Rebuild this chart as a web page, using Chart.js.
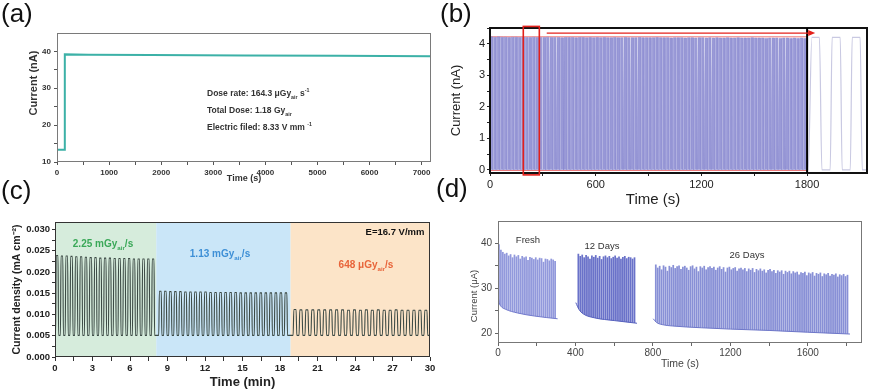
<!DOCTYPE html>
<html>
<head>
<meta charset="utf-8">
<script src="https://cdn.jsdelivr.net/npm/chart.js@4.4.1/dist/chart.umd.min.js"></script>
<style>
  body { margin:0; background:#fff; font-family:'Liberation Sans', Arial, sans-serif; }
  #fig { position:relative; width:875px; height:390px; overflow:hidden; }
  .box { position:absolute; }
  .t { position:absolute; white-space:nowrap; line-height:1; }
  .c { transform:translate(-50%,-50%); }
  .l { transform:translate(0,-50%); }
  .r { transform:translate(-50%,-50%) rotate(-90deg); }
  .lbl { position:absolute; font-size:26px; line-height:1; color:#111; }
  sub, sup { font-size:62%; line-height:0; }
</style>
</head>
<body>
<div id="fig">
  <div class="box" style="left:0;top:0;width:440px;height:190px"><canvas id="chartA"></canvas></div>
  <div class="box" style="left:440px;top:0;width:435px;height:195px"><canvas id="chartB"></canvas></div>
  <div class="box" style="left:0;top:200px;width:440px;height:190px"><canvas id="chartC"></canvas></div>
  <div class="box" style="left:440px;top:208px;width:435px;height:182px"><canvas id="chartD"></canvas></div>

  <div class="lbl" style="left:1px;top:0">(a)</div>
  <div class="lbl" style="left:440px;top:0">(b)</div>
  <div class="lbl" style="left:1px;top:177px">(c)</div>
  <div class="lbl" style="left:436px;top:175px">(d)</div>

  <!-- (a) -->
  <div class="t r" style="left:33px;top:83px;font:bold 11px 'Liberation Sans',Arial;color:#333">Current (nA)</div>
  <div class="t l" style="left:207px;top:93px;font:bold 8.5px 'Liberation Sans',Arial;color:#333">Dose rate: 164.3 μGy<sub>air</sub> s<sup>-1</sup></div>
  <div class="t l" style="left:207px;top:110px;font:bold 8.5px 'Liberation Sans',Arial;color:#333">Total Dose: 1.18 Gy<sub>air</sub></div>
  <div class="t l" style="left:207px;top:127px;font:bold 8.5px 'Liberation Sans',Arial;color:#333">Electric filed: 8.33 V mm <sup>-1</sup></div>

  <!-- (b) -->
  <div class="t c" style="left:653px;top:198px;font:15px 'Liberation Sans',Arial;color:#222">Time (s)</div>

  <!-- (c) -->
  <div class="t c" style="left:103px;top:243px;font:bold 10px 'Liberation Sans',Arial;color:#3aa858">2.25 mGy<sub>air</sub>/s</div>
  <div class="t c" style="left:220px;top:253px;font:bold 10px 'Liberation Sans',Arial;color:#3d8fd6">1.13 mGy<sub>air</sub>/s</div>
  <div class="t c" style="left:366px;top:264px;font:bold 10px 'Liberation Sans',Arial;color:#e8643a">648 μGy<sub>air</sub>/s</div>
  <div class="t c" style="left:395px;top:231px;font:bold 9.5px 'Liberation Sans',Arial;color:#111">E=16.7 V/mm</div>

  <!-- (d) -->
  <div class="t r" style="left:473px;top:296px;font:9.5px 'Liberation Sans',Arial;color:#444">Current (μA)</div>
  <div class="t c" style="left:528px;top:239px;font:9.5px 'Liberation Sans',Arial;color:#333">Fresh</div>
  <div class="t c" style="left:602px;top:245px;font:9.5px 'Liberation Sans',Arial;color:#333">12 Days</div>
  <div class="t c" style="left:747px;top:254px;font:9.5px 'Liberation Sans',Arial;color:#333">26 Days</div>
</div>

<script>
const FONT = "'Liberation Sans', Arial, sans-serif";

// (a) current under continuous irradiation
const aTime    = [0, 150, 150, 600, 1800, 3600, 5400, 7180];
const aCurrent = [13.3, 13.3, 39.2, 39.1, 39.0, 38.9, 38.8, 38.7];
const aXTicks = [0, 500, 1000, 1500, 2000, 2500, 3000, 3500, 4000, 4500, 5000, 5500, 6000, 6500, 7000];
const aYTicks = [10, 15, 20, 25, 30, 35, 40];

// (b) on/off switching, one peak per cycle
const bPeriod = 20;
const bPeaks = [
  4.22,4.21,4.22,4.21,4.21,4.2,4.21,4.21,4.2,4.21,4.2,4.2,4.21,4.2,4.2,
  4.2,4.21,4.2,4.2,4.2,4.19,4.2,4.2,4.2,4.19,4.2,4.2,4.19,4.2,4.19,
  4.2,4.19,4.2,4.19,4.19,4.2,4.19,4.19,4.2,4.19,4.19,4.19,4.2,4.19,4.19,
  4.19,4.19,4.2,4.19,4.19,4.19,4.18,4.19,4.19,4.19,4.18,4.19,4.19,4.18,4.19,
  4.19,4.18,4.19,4.18,4.19,4.18,4.18,4.19,4.18,4.18,4.19,4.18,4.18,4.18,4.19,
  4.18,4.18,4.18,4.17,4.18,4.18,4.18,4.17,4.18,4.18,4.17,4.18,4.17,4.18,4.17
];
// zoomed view drawn right of 1800 s
const bInsetTime    = [1803, 1806, 1827, 1870, 1884, 1931, 1942, 1988, 1999, 2045, 2056, 2101, 2113, 2140];
const bInsetCurrent = [0, 0, 4.2, 4.2, 0, 0, 4.2, 4.2, 0, 0, 4.2, 4.2, 0, 0];
const bSplitTime = 1800;
const bBoxTime = [189, 280];
const bBoxCurrent = [-0.16, 4.55];
const bArrowTime = [322, 1846];
const bArrowCurrent = 4.34;
const bGuideTop = 4.22, bGuideBottom = -0.02;
const bXTicks = [0, 300, 600, 900, 1200, 1500, 1800];
const bYTicks = [0, 0.5, 1, 1.5, 2, 2.5, 3, 3.5, 4, 4.5];

// (c) three dose rates
const cRegionEdges = [0, 8.1, 18.85, 30];
const cRegionColors = ['#d6ecdc', '#cae6f8', '#fce4c8'];
const cBase = 0.0051;
const cStart = [0.05, 8.3, 19.05];
const cPeriod = [0.384, 0.402, 0.476];
const cPeaksHigh = [0.0239,0.0238,0.0238,0.0237,0.0236,0.0236,0.0235,0.0234,0.0234,0.0233,0.0233,
  0.0233,0.0232,0.0232,0.0232,0.0232,0.0231,0.0231,0.0231,0.0231,0.0231];
const cPeaksMid = [0.0155,0.0155,0.0154,0.0154,0.0154,0.0153,0.0153,0.0153,0.0153,0.0153,0.0152,0.0152,0.0152,
  0.0152,0.0152,0.0152,0.0151,0.0151,0.0151,0.0151,0.0151,0.0151,0.0151,0.0151,0.0151,0.0151];
const cPeaksLow = [0.0112,0.0111,0.0111,0.0111,0.0111,0.0111,0.0111,0.0111,0.0111,0.0110,0.0111,0.0110,
  0.0111,0.0110,0.0111,0.0110,0.0110,0.0111,0.0110,0.0110,0.0110,0.0110,0.0110];
const cXTicks = [0, 1.5, 3, 4.5, 6, 7.5, 9, 10.5, 12, 13.5, 15, 16.5, 18, 19.5, 21, 22.5, 24, 25.5, 27, 28.5, 30];
const cYTicks = [0, 0.0025, 0.005, 0.0075, 0.01, 0.0125, 0.015, 0.0175, 0.02, 0.0225, 0.025, 0.0275, 0.03];

// (d) stability: spike tops every 10 s, smooth dark-current baseline
const dFloor = 17.8;
const dStep = 10;
const dFreshStart = 5, dDay12Start = 415, dDay26Start = 815;
const dFreshTop = [39.8,38.6,38.1,37.7,37.9,37.3,37.6,36.9,37.5,37.1,37.4,36.6,37.2,36.9,37.1,
  36.3,37.0,36.8,36.5,36.9,36.4,36.8,36.7,35.9,36.6,36.5,36.2,36.6,36.4,36.1];
const dDay12Top = [37.7,37.2,37.5,36.9,37.4,37.1,36.6,37.3,37.0,37.4,36.8,37.2,36.5,37.1,37.3,
  36.9,37.2,36.7,37.0,37.3,36.8,37.1,36.6,37.0,37.2,36.7,37.0,36.9,36.6,36.9];
const dDay26Top = [
  35.3,34.6,35.0,34.2,35.1,34.8,33.9,35.0,34.7,35.2,34.5,34.9,35.1,34.3,34.8,
  35.0,34.6,34.1,34.9,35.1,34.4,34.8,33.8,34.9,34.6,35.0,34.2,34.7,34.9,34.5,
  34.8,34.1,34.6,34.9,34.3,34.7,33.7,34.6,34.8,34.2,34.5,34.7,33.9,34.4,34.6,
  34.2,34.5,33.8,34.4,34.1,34.5,33.6,34.3,34.0,34.4,33.9,34.2,33.5,34.1,34.3,
  33.8,34.1,33.4,34.0,33.7,34.0,33.2,33.9,33.6,33.9,33.3,33.8,33.5,33.7,33.1,
  33.6,33.4,33.7,32.9,33.5,33.3,33.6,32.8,33.4,33.2,33.5,32.7,33.3,33.1,33.4,
  32.8,33.2,33.0,33.3,32.6,33.1,32.9,33.2,32.7,33.0
];
const dFreshBaseT = [0, 6, 15, 40, 100, 190, 308];
const dFreshBase  = [28.5, 26.8, 26.0, 25.3, 24.5, 23.8, 23.2];
const dDay12BaseT = [402, 418, 440, 500, 600, 718];
const dDay12Base  = [26.8, 25.3, 24.3, 23.4, 22.8, 22.2];
const dDay26BaseT = [802, 818, 848, 900, 1050, 1200, 1400, 1600, 1818];
const dDay26Base  = [23.2, 22.4, 21.9, 21.6, 21.2, 20.9, 20.6, 20.2, 19.8];
const dXTicks = [0, 200, 400, 600, 800, 1000, 1200, 1400, 1600, 1800];
const dYTicks = [20, 25, 30, 35, 40];

// ---------- helpers
const xy = (xs, ys) => xs.map((x, i) => ({x, y: ys[i]}));

function pulseTrain(start, period, peaks, low, riseFrac, onFrac) {
  const pts = [];
  peaks.forEach((p, i) => {
    const t0 = start + i * period;
    pts.push({x: t0, y: low}, {x: t0 + riseFrac * period, y: p},
             {x: t0 + onFrac * period, y: p}, {x: t0 + (onFrac + riseFrac) * period, y: low});
  });
  return pts;
}

const framePlugin = {
  id: 'frame',
  afterDatasetsDraw(chart, args, opts) {
    const {ctx, chartArea: a} = chart;
    const w = opts.width || 1;
    const off = (w % 2) ? 0.5 : 0;
    ctx.save();
    ctx.strokeStyle = opts.color || '#777';
    ctx.lineWidth = w;
    const l = Math.round(a.left) + off, t = Math.round(a.top) + off;
    const r = Math.round(a.right) - off, b = Math.round(a.bottom) - off;
    ctx.strokeRect(l, t, r - l, b - t);
    ctx.restore();
  }
};
Chart.register(framePlugin);

// linear axis with fixed tick positions and a fixed box size
function axis(o) {
  return {
    type: 'linear', min: o.min, max: o.max, offset: false,
    border: {display: false},
    grid: {drawOnChartArea: false, tickLength: o.tickLength || 3, color: o.tickColor || '#444', offset: false},
    ticks: {autoSkip: false, maxRotation: 0, padding: o.pad == null ? 3 : o.pad,
            font: o.font, color: o.color || '#333', callback: o.cb},
    afterBuildTicks: s => { s.ticks = o.ticks.map(v => ({value: v})); },
    title: o.title || {display: false},
    afterFit: o.fit
  };
}

const base = {responsive: true, maintainAspectRatio: false, animation: false, events: []};
const noLegend = {legend: {display: false}, tooltip: {enabled: false}};

// ---------- (a)
const fontA = {family: FONT, size: 8, weight: 'bold'};
new Chart(document.getElementById('chartA'), {
  type: 'line',
  data: {datasets: [{data: xy(aTime, aCurrent), borderColor: '#3cb1a7', borderWidth: 2, pointRadius: 0, fill: false}]},
  options: Object.assign({}, base, {
    layout: {padding: {top: 33, right: 9, left: 0, bottom: 0}},
    plugins: Object.assign({}, noLegend, {frame: {color: '#7a7a7a', width: 1}}),
    scales: {
      x: axis({min: 0, max: 7180, ticks: aXTicks, font: fontA, tickColor: '#555',
        cb: v => v % 1000 === 0 ? String(v) : '',
        title: {display: true, text: 'Time (s)', font: {family: FONT, size: 9, weight: 'bold'}, color: '#333', padding: {top: 0, bottom: 6}},
        fit: s => { s.height = 28; }}),
      y: axis({min: 10, max: 45, ticks: aYTicks, font: fontA, tickColor: '#555',
        cb: v => v % 10 === 0 ? String(v) : '', fit: s => { s.width = 57; }})
    }
  })
});

// ---------- (b)
const bMarks = {
  id: 'bMarks',
  afterDatasetsDraw(chart) {
    const {ctx, scales: {x, y}, chartArea: a} = chart;
    ctx.save();
    const xd = x.getPixelForValue(bSplitTime);
    ctx.strokeStyle = '#000'; ctx.lineWidth = 2;
    ctx.beginPath(); ctx.moveTo(xd, a.top); ctx.lineTo(xd, a.bottom); ctx.stroke();
    ctx.strokeStyle = '#e3201b'; ctx.lineWidth = 1.6;
    const x0 = x.getPixelForValue(bBoxTime[0]), x1 = x.getPixelForValue(bBoxTime[1]);
    const y0 = y.getPixelForValue(bBoxCurrent[1]), y1 = y.getPixelForValue(bBoxCurrent[0]);
    ctx.strokeRect(x0, y0, x1 - x0, y1 - y0);
    const ax0 = x.getPixelForValue(bArrowTime[0]), ax1 = x.getPixelForValue(bArrowTime[1]);
    const ay = y.getPixelForValue(bArrowCurrent);
    ctx.lineWidth = 1.3;
    ctx.beginPath(); ctx.moveTo(ax0, ay); ctx.lineTo(ax1 - 5, ay); ctx.stroke();
    ctx.fillStyle = '#e3201b';
    ctx.beginPath(); ctx.moveTo(ax1, ay); ctx.lineTo(ax1 - 7, ay - 3); ctx.lineTo(ax1 - 7, ay + 3); ctx.closePath(); ctx.fill();
    ctx.restore();
  }
};
const fontB = {family: FONT, size: 11};
new Chart(document.getElementById('chartB'), {
  type: 'line',
  data: {datasets: [
    {data: pulseTrain(0, bPeriod, bPeaks, 0, 0.04, 0.72), borderColor: '#8a8ad0', borderWidth: 0.5,
     backgroundColor: '#9a9ad7', fill: 'origin', pointRadius: 0},
    {data: xy(bInsetTime, bInsetCurrent), borderColor: '#c9c9e2', borderWidth: 1.2, pointRadius: 0,
     cubicInterpolationMode: 'monotone', fill: false},
    {data: xy([0, bSplitTime], [bGuideTop, bGuideTop]), borderColor: 'rgba(232,70,70,0.75)', borderWidth: 1, pointRadius: 0},
    {data: xy([0, bSplitTime], [bGuideBottom, bGuideBottom]), borderColor: 'rgba(232,70,70,0.75)', borderWidth: 1, pointRadius: 0}
  ]},
  options: Object.assign({}, base, {
    layout: {padding: {top: 28, right: 8, left: 0, bottom: 0}},
    plugins: Object.assign({}, noLegend, {frame: {color: '#111', width: 2}}),
    scales: {
      x: axis({min: 0, max: 2140, ticks: bXTicks, font: fontB, color: '#222', tickColor: '#222', pad: 2,
        cb: v => v % 600 === 0 ? String(v) : '', fit: s => { s.height = 22; }}),
      y: axis({min: -0.1, max: 4.5, ticks: bYTicks, font: fontB, color: '#222', tickColor: '#222', pad: 2,
        cb: v => Number.isInteger(v) ? String(v) : '',
        title: {display: true, text: 'Current (nA)', font: {family: FONT, size: 13}, color: '#222', padding: {top: 9, bottom: 0}},
        fit: s => { s.width = 50; }})
    }
  }),
  plugins: [bMarks]
});

// ---------- (c)
const cBands = {
  id: 'cBands',
  beforeDatasetsDraw(chart) {
    const {ctx, scales: {x}, chartArea: a} = chart;
    ctx.save();
    cRegionColors.forEach((col, i) => {
      const l = x.getPixelForValue(cRegionEdges[i]), r = x.getPixelForValue(cRegionEdges[i + 1]);
      ctx.fillStyle = col;
      ctx.fillRect(l, a.top, r - l, a.bottom - a.top);
    });
    ctx.restore();
  }
};
const cWave = [{x: 0, y: cBase}]
  .concat(pulseTrain(cStart[0], cPeriod[0], cPeaksHigh, cBase, 0.12, 0.5))
  .concat(pulseTrain(cStart[1], cPeriod[1], cPeaksMid, cBase, 0.12, 0.5))
  .concat(pulseTrain(cStart[2], cPeriod[2], cPeaksLow, cBase, 0.12, 0.5))
  .concat([{x: 30, y: cBase}]);
const fontC = {family: FONT, size: 9.5, weight: 'bold'};
new Chart(document.getElementById('chartC'), {
  type: 'line',
  data: {datasets: [{data: cWave, borderColor: '#3c4a45', borderWidth: 1.1, pointRadius: 0,
    cubicInterpolationMode: 'monotone', fill: false}]},
  options: Object.assign({}, base, {
    layout: {padding: {top: 22, right: 10, left: 0, bottom: 0}},
    plugins: Object.assign({}, noLegend, {frame: {color: '#333', width: 1}}),
    scales: {
      x: axis({min: 0, max: 30, ticks: cXTicks, font: fontC, color: '#222', tickColor: '#333', tickLength: 4, pad: 2,
        cb: v => Math.round(v * 2) % 6 === 0 ? String(Math.round(v)) : '',
        title: {display: true, text: 'Time (min)', font: {family: FONT, size: 13, weight: 'bold'}, color: '#222', padding: {top: 0, bottom: 0}},
        fit: s => { s.height = 33; }}),
      y: axis({min: 0, max: 0.0318, ticks: cYTicks, font: fontC, color: '#222', tickColor: '#333', pad: 2,
        cb: v => Math.round(v / 0.0025) % 2 === 0 ? v.toFixed(3) : '',
        title: {display: true, text: 'Current density (mA cm⁻²)', font: {family: FONT, size: 10.5, weight: 'bold'}, color: '#222', padding: {top: 11, bottom: 0}},
        fit: s => { s.width = 55; }})
    }
  }),
  plugins: [cBands]
});

// ---------- (d)
const spikes = (start, tops) => tops.map((v, i) => ({x: start + i * dStep, y: [dFloor, v]}));
const spikeSet = (data, color) => ({type: 'bar', data, backgroundColor: color, borderWidth: 0,
  grouped: false, barPercentage: 0.9, categoryPercentage: 1, order: 2});
const baseSet = (ts, vs, edge) => ({type: 'line', data: xy(ts, vs), borderColor: edge, borderWidth: 1,
  backgroundColor: '#fff', fill: 'start', pointRadius: 0, cubicInterpolationMode: 'monotone', order: 1});
const fontD = {family: FONT, size: 10};
new Chart(document.getElementById('chartD'), {
  type: 'bar',
  data: {datasets: [
    spikeSet(spikes(dFreshStart, dFreshTop), '#9299dc'),
    spikeSet(spikes(dDay12Start, dDay12Top), '#6a72c9'),
    spikeSet(spikes(dDay26Start, dDay26Top), '#8890d6'),
    baseSet(dFreshBaseT, dFreshBase, '#7179cc'),
    baseSet(dDay12BaseT, dDay12Base, '#5560bd'),
    baseSet(dDay26BaseT, dDay26Base, '#6d76c8')
  ]},
  options: Object.assign({}, base, {
    layout: {padding: {top: 13, right: 13, left: 0, bottom: 0}},
    plugins: Object.assign({}, noLegend, {frame: {color: '#777', width: 1}}),
    scales: {
      x: axis({min: 0, max: 1880, ticks: dXTicks, font: fontD, color: '#444', tickColor: '#666', pad: 1,
        cb: v => v % 400 === 0 ? String(v) : '',
        title: {display: true, text: 'Time (s)', font: {family: FONT, size: 10.5}, color: '#444', padding: {top: 0, bottom: 20}},
        fit: s => { s.height = 47; }}),
      y: axis({min: dFloor, max: 45, ticks: dYTicks, font: fontD, color: '#444', tickColor: '#666', pad: 3,
        cb: v => v % 10 === 0 ? String(v) : '', fit: s => { s.width = 58; }})
    }
  })
});
</script>
</body>
</html>
